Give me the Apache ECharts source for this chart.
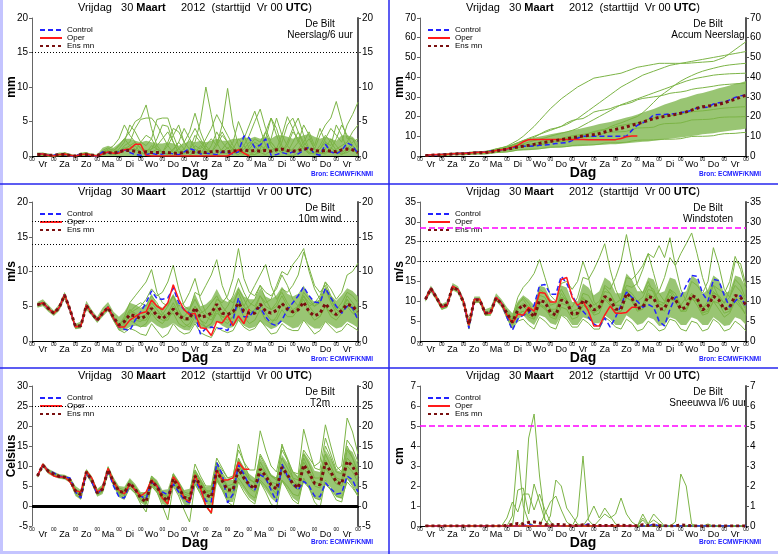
<!DOCTYPE html>
<html>
<head>
<meta charset="utf-8">
<title>EPS De Bilt</title>
<script src="https://cdn.jsdelivr.net/npm/echarts/dist/echarts.min.js"></script>
<style>
html, body { margin: 0; padding: 0; background: #fff; }
#chart { width: 778px; height: 554px; }
</style>
</head>
<body>
<div id="chart"></div>
<script>
// dagen (labels tussen de 00-streepjes)
var DAYS = ['Vr','Za','Zo','Ma','Di','Wo','Do','Vr','Za','Zo','Ma','Di','Wo','Do','Vr'];
var CATS = [];
for (var h = 0; h <= 360; h += 6) CATS.push(String(h));

// ---------- Neerslag/6 uur ----------
var precCtrl = [null, 0.3,0.3,0.1,0.1, 0.3,0.2,0,0, 0.3,0.2,0,0, 0.6,0.5,0.3,0.6, 0.9,0.5,0.2,0.1, 0.2,0.4,0.2,0.3, 0.5,0.3,0.2,0.6, 1.1,0.8,0.3,0.4, 0.3,0.2,0.6,0.5, 0.3,0.6,2.9,2.6, 1.2,1.6,2.5,0.1, 0.2,0.5,0.3,0.6, 0.3,0.8,1.3,0.3, 0.1,1.7,0.6,0.3, 0.8,1.9,1.5,0.3];
var precOper = [null, 0.3,0.3,0.1,0, 0.2,0.3,0.1,0, 0.2,0.3,0.1,0, 0.3,0.6,0.4,0.4, 0.9,1.0,1.7,1.7, 0.1,0,0,0, 0,0,0,0, 0,0,0,0, 0,0,0,0, 0.5,0.9,0.4,0];
var precMean = [null, 0.2,0.2,0.1,0.1, 0.2,0.2,0.1,0, 0.2,0.2,0.1,0.1, 0.4,0.5,0.4,0.6, 0.8,0.8,0.7,0.5, 0.6,0.5,0.5,0.5, 0.5,0.4,0.4,0.5, 0.6,0.5,0.6,0.5, 0.6,0.7,0.6,0.6, 0.7,0.8,0.9,0.7, 0.8,0.7,0.8,0.7, 0.9,1.0,0.8,0.7, 0.8,1.0,1.1,0.8, 0.7,0.8,0.7,0.6, 0.9,1.0,0.9,0.5];
var precHi = [null, 0.5,0.5,0.3,0.2, 0.5,0.5,0.2,0.1, 0.5,0.5,0.2,0.2, 1.2,1.5,1.2,1.8, 2.5,2.5,2.2,2.0, 2.2,2.0,1.8,1.8, 2.0,1.8,1.5,1.8, 2.2,2.0,2.2,2.0, 2.2,2.5,2.2,2.2, 2.5,2.5,2.8,2.5, 2.8,2.5,2.8,2.5, 3.0,3.0,2.8,2.5, 2.8,3.0,3.2,2.8, 2.5,2.8,2.5,2.2, 3.0,3.0,2.8,2.0];
var precM1 = [null, 0.4,0.2,0,0, 0.2,0.4,0,0, 0.3,0.5,0,0, 0.8,1.2,0.5,1.5, 2.5,3.5,5.0,5.5, 7.4,4.0,1.5,0.5, 0.3,1.0,2.0,1.0, 0.2,0.5,1.5,0.8, 0.2,0,0.5,1.2, 0.5,0.2,1.0,2.0, 1.5,0.5,0.2,0.8, 1.2,0.5,0.2,0, 0.5,1.5,2.5,1.0, 0.3,0.5,1.2,0.6, 0.2,0.8,1.5,0.5];
var precM2 = [null, 0.2,0.3,0.1,0, 0.1,0.2,0.1,0, 0.2,0.3,0,0, 0.5,0.8,0.3,0.6, 1.2,1.0,0.8,2.0, 3.0,2.5,1.0,0.5, 1.5,3.0,4.5,2.0, 1.0,2.0,5.0,10.0, 6.0,2.0,0.5,0.3, 1.0,2.5,1.5,0.5, 0.2,1.0,3.5,5.5, 4.0,1.5,0.5,1.0, 2.0,1.0,0.3,0.5, 1.5,3.0,2.0,0.8, 0.3,0.5,1.0,0.4];
var precM3 = [null, 0.3,0.2,0,0, 0.3,0.2,0,0, 0.2,0.4,0.1,0, 0.3,0.6,0.4,1.0, 2.0,4.5,3.5,2.0, 1.5,2.5,5.3,5.5, 5.5,3.0,1.0,0.5, 0.5,1.5,1.0,2.5, 4.0,6.0,4.5,9.8, 4.5,1.5,0.5,0.2, 0.2,0.5,1.5,2.0, 1.0,0.5,2.0,4.0, 5.5,3.0,1.0,0.5, 0.2,1.0,2.5,1.5, 0.5,1.0,0.8,0.3];
var precM4 = [null, 0.2,0.4,0.2,0, 0.2,0.3,0.1,0, 0.3,0.4,0.1,0, 0.6,0.5,0.3,0.8, 1.0,1.5,2.0,1.2, 0.8,1.0,1.5,2.5, 3.5,2.0,0.5,0.3, 1.0,3.0,2.0,1.0, 0.5,1.5,3.0,2.0, 1.0,0.5,1.5,3.0, 5.0,6.8,4.0,2.0, 1.0,0.5,1.5,3.5, 2.5,1.0,0.5,1.0, 3.0,4.5,5.5,7.9, 5.0,2.5,2.5,1.0];
var precM5 = [null, 0.1,0.2,0.3,0, 0,0.5,0.2,0, 0.1,0.2,0.3,0, 0.4,0.8,1.0,0.5, 1.5,2.0,4.0,5.3, 5.5,5.5,4.5,3.0, 1.5,0.5,1.0,2.0, 3.5,6.2,3.5,1.5, 0.5,0.2,1.0,2.0, 1.0,0.5,0.2,1.5, 2.5,2.0,3.5,1.5, 0.5,2.0,4.5,5.5, 3.5,1.5,0.5,0.3, 1.0,2.0,1.5,4.5, 3.0,1.0,2.0,2.5];
var precM6 = [null, 0.2,0.1,0,0, 0.3,0.2,0,0, 0.2,0.5,0.2,0, 0.2,0.4,0.8,1.5, 2.5,1.5,1.0,0.5, 0.3,1.0,2.5,4.5, 4.3,2.0,0.5,1.0, 2.5,4.0,2.5,1.0, 0.5,2.0,3.5,2.0, 0.5,1.0,2.5,4.5, 6.5,4.0,1.5,0.5, 1.0,3.0,5.7,4.0, 2.0,4.5,3.0,1.0, 0.5,0.3,1.0,2.5, 4.5,3.0,1.5,0.5];
var precM7 = [null, 0.1,0.3,0.1,0, 0.2,0.1,0,0, 0.4,0.2,0,0, 0.3,0.5,0.2,0.4, 0.8,1.2,1.5,0.5, 0.2,0.5,1.0,0.5, 0.2,0.8,2.0,4.0, 2.5,1.0,0.5,0.3, 1.5,3.5,2.0,1.0, 2.0,5.0,3.0,1.0, 0.5,1.5,2.5,5.5, 3.0,1.0,0.5,2.0, 3.5,2.0,1.0,0.5, 1.0,2.5,4.0,3.0, 2.0,4.5,6.0,7.8];
var precM8 = [null, 0.3,0.2,0,0, 0.1,0.3,0.2,0, 0.2,0.3,0,0, 0.6,1.0,1.5,2.5, 4.5,3.0,2.0,1.0, 0.5,1.5,1.0,0.5, 2.0,4.0,3.5,2.0, 1.0,0.5,0.3,1.5, 2.5,1.5,4.5,3.0, 1.5,0.5,0.5,1.0, 2.0,1.5,1.0,2.5, 5.5,3.0,1.5,0.5, 1.0,2.0,3.5,1.5, 4.0,2.0,0.5,1.0, 1.5,2.0,3.5,4.5];

// ---------- Accum neerslag ----------
var accCtrl = [null, 0.2,0.4,0.6,0.8, 1.0,1.2,1.3,1.4, 1.6,1.8,1.9,2.0, 2.5,2.9,3.1,3.6, 4.3,4.8,5.0,5.0, 5.1,5.4,5.6,5.9, 6.3,6.6,6.8,7.8, 9.0,10.0,10.0,10.0, 10.0,10.0,10.0,10.0, 10.0,10.1,13.0,15.6, 16.8,18.4,20.9,21.0, 21.1,21.3,21.5,22.1, 22.4,23.2,24.5,24.6, 24.7,26.4,27.0,27.3, 28.5,29.7,30.5,31.0];
var accOper = [null, 0.3,0.6,0.7,0.7, 0.9,1.2,1.3,1.3, 1.5,1.8,1.9,1.9, 2.2,2.8,3.2,3.6, 4.5,5.5,7.2,8.3, 8.4,8.4,8.4,8.4, 8.4,8.4,8.4,8.4, 8.4,8.4,8.3,8.3, 8.3,8.3,8.3,8.3, 8.9,9.8,10.2,10.2];
var accMean = [null, 0.2,0.4,0.5,0.6, 0.8,1.0,1.1,1.1, 1.3,1.5,1.6,1.7, 2.1,2.6,3.0,3.4, 4.0,4.6,5.0,5.4, 5.9,6.4,6.9,7.4, 7.9,8.3,8.7,9.2, 9.7,10.1,10.5,10.9, 11.4,12.2,12.9,13.5, 14.1,14.8,15.6,16.3, 17.2,18.1,19.0,19.6, 20.1,20.6,21.1,21.7, 22.4,23.3,24.2,25.0, 25.3,25.7,26.2,27.0, 27.9,28.8,29.9,30.8];
var accLo = [null, 0.1,0.2,0.3,0.4, 0.5,0.6,0.6,0.7, 0.9,1.0,1.0,1.1, 1.4,1.6,1.7,2.0, 2.3,2.6,2.8,2.9, 3.2,3.5,3.7,4.0, 4.2,4.3,4.6,4.8, 5.0,5.1,5.3,5.4, 5.6,5.7,5.9,6.0, 6.2,6.5,6.7,7.0, 7.2,7.4,7.7,8.0, 8.4,8.7,9.1,9.4, 9.8,10.2,10.5,11.0, 11.3,11.6,12.1,12.4, 12.8,13.2,13.5,14.0];
var accHi = [null, 0.4,0.6,0.8,1.2, 1.4,1.6,1.7,1.8, 2.0,2.3,2.4,2.6, 3.2,3.9,4.4,5.0, 6.1,7.0,7.8,8.4, 9.2,9.9,10.4,11.0, 11.6,12.0,12.4,13.1, 13.6,14.2,14.9,15.5, 16.2,16.8,17.3,18.0, 18.8,19.5,20.1,21.0, 22.1,23.0,23.9,25.0, 26.1,27.0,27.9,29.0, 29.7,30.5,31.4,32.0, 32.7,33.5,34.4,35.0, 35.7,36.6,37.2,38.0];
var accM1 = [null, 0.3,0.5,0.7,0.9, 1.1,1.3,1.4,1.5, 1.8,2.0,2.1,2.2, 2.8,3.5,4.2,5.0, 6.5,8.0,10,12.5, 15,18,21,24, 26.5,29,31,33, 35,36.5,38,39.5, 40,40.5,41,41.5, 42,43,44,45, 45.5,46,46.5,47, 47,47,47,47, 47,47.2,47.4,47.6, 47.8,48,49,50, 52,54,56,58];
var accM2 = [null, 0.2,0.4,0.6,0.8, 1.0,1.2,1.3,1.4, 1.6,1.8,1.9,2.0, 2.6,3.2,3.8,4.5, 5.5,6.5,7.8,9.0, 10,11,12,13, 14,15,16,17.5, 19,21,23,25, 27,29,31,33, 35,36.5,38,39.5, 41,42,43,44, 45,46,46.5,47, 47.5,48,48.5,49, 49.5,50,50.5,51, 51.5,52,52.5,53];
var accM3 = [null, 0.2,0.3,0.5,0.7, 0.9,1.0,1.1,1.2, 1.4,1.6,1.7,1.8, 2.2,2.8,3.4,4.0, 4.8,5.5,6.2,7.0, 7.8,8.5,9.2,10, 10.8,11.5,12.2,13, 14,15.5,17,18.5, 20,21.5,23,24.5, 26,27,28,29, 30,31,32,33, 34,35,36,37, 38,38.8,39.5,40, 40.5,41,41.3,41.5, 41.7,41.8,41.9,42];
var accM4 = [null, 0.1,0.2,0.3,0.3, 0.4,0.6,0.6,0.6, 0.8,0.9,1.0,1.0, 1.3,1.7,1.9,2.0, 2.5,3.1,3.3,3.4, 3.5,3.6,4.2,4.5, 4.6,4.6,4.8,5.3, 5.5,5.6,5.6,5.7, 6.0,6.6,6.7,6.7, 6.8,7.0,7.6,8.0, 8.1,8.1,8.2,8.4, 8.5,8.5,8.6,8.8, 9.4,9.9,10.0,10.0, 10.1,10.3,10.9,11.3, 11.4,11.5,11.8,12.0];
var accM5 = [null, 0.2,0.3,0.4,0.5, 0.7,0.9,1.0,1.0, 1.2,1.5,1.6,1.6, 2.0,2.6,2.9,3.1, 3.5,4.2,4.8,5.0, 5.1,5.3,6.2,7.0, 7.2,7.3,7.5,8.6, 9.4,9.6,9.7,9.8, 10.5,11.8,12.1,12.2, 12.3,12.5,13.4,14.2, 14.3,14.4,14.6,15.8, 16.4,16.5,16.6,16.8, 17.5,18.3,18.4,18.5, 18.6,18.9,19.5,19.7, 19.8,19.8,19.9,20.0];
var accM6 = [null, 0.3,0.5,0.6,0.7, 0.9,1.2,1.3,1.3, 1.6,1.9,2.0,2.0, 2.6,3.4,4.0,4.6, 5.5,6.8,7.9,8.6, 9.4,11.0,12.5,13.6, 14.2,15.0,16.8,18.0, 18.6,19.0,20.5,22.3, 23.0,23.4,24.0,25.1, 25.8,26.4,27.2,28.5, 29.2,29.6,30.0,30.4, 31.0,31.8,32.2,32.5, 33.0,33.8,34.3,34.6, 35.0,35.4,35.9,36.2, 36.4,36.6,36.8,37.0];
var accM7 = [null, 0.2,0.4,0.5,0.6, 0.8,1.0,1.1,1.2, 1.4,1.6,1.8,1.8, 2.3,2.9,3.3,3.7, 4.3,5.0,5.5,5.8, 6.3,7.2,7.8,8.1, 8.4,8.9,9.6,10.2, 10.6,11.0,11.5,12.4, 13.1,13.5,14.0,14.9, 15.5,16.0,16.4,16.8, 17.5,18.6,19.3,19.8, 20.1,20.4,20.8,21.3, 21.9,22.4,22.7,22.9, 23.2,23.6,24.0,24.3, 24.5,24.7,24.9,25.0];
var accM8 = [null, 0.2,0.3,0.4,0.5, 0.6,0.8,0.9,0.9, 1.1,1.3,1.4,1.4, 1.8,2.3,2.6,3.0, 3.6,4.3,4.8,5.1, 5.5,6.2,6.8,7.2, 7.6,8.3,8.9,9.4, 9.8,10.5,11.4,12.1, 12.6,13.5,14.8,15.9, 16.8,17.9,19.0,20.0, 22.0,24.5,27.2,30.0, 32.0,34.0,36.2,38.0, 39.5,40.8,42.0,43.0, 43.8,44.5,45.2,45.8, 46.2,46.5,46.8,47.0];

// ---------- 10m wind ----------
var windCtrl = [null, 5.2,5.5,4.7,4.0, 4.8,6.7,4.5,2.0, 2.2,5.2,4.0,3.0, 4.0,4.9,3.3,2.0, 1.7,1.5,3.0,4.2, 5.5,7.2,6.1,6.0, 6.2,7.6,5.5,4.5, 4.0,3.8,1.0,1.8, 2.0,1.8,1.8,1.5, 3.0,6.2,3.5,3.5, 4.5,4.8,3.5,2.5, 2.2,3.0,4.5,5.5, 6.5,7.8,6.5,5.6, 5.5,7.6,6.2,5.0, 4.0,5.0,4.8,3.0];
var windOper = [null, 5.2,5.5,4.7,4.0, 4.8,6.7,4.5,2.0, 2.2,5.2,4.0,3.0, 4.0,4.9,3.3,2.0, 2.0,3.0,3.5,4.0, 4.2,5.9,5.0,4.5, 5.5,8.1,6.0,4.5, 3.8,4.0,1.9,1.8, 0.8,2.8,2.6,3.7, 2.2,3.6,2.5,4.6];
var windMean = [null, 5.2,5.5,4.7,4.0, 4.8,6.6,4.5,2.1, 2.2,5.1,4.0,3.0, 4.0,4.8,3.4,2.3, 2.8,3.8,3.6,3.2, 3.6,4.7,3.6,3.2, 3.8,4.6,3.6,3.2, 3.2,4.8,3.4,3.6, 4.0,5.3,4.0,3.8, 4.2,5.5,4.3,4.0, 4.0,5.3,4.3,4.0, 4.4,5.4,4.6,4.2, 4.5,5.6,4.2,3.6, 4.0,5.4,4.4,3.8, 4.4,5.3,5.0,4.2];
var windLo = [null, 4.8,5.0,4.2,3.6, 4.3,6.0,4.0,1.7, 1.8,4.5,3.6,2.6, 3.5,4.3,2.8,1.5, 1.5,2.0,2.2,2.0, 2.0,2.8,2.2,1.8, 2.0,2.6,2.0,1.6, 1.5,2.6,2.0,1.8, 1.8,2.8,2.2,1.8, 2.0,3.0,2.2,1.8, 2.0,2.8,2.2,1.7, 2.0,2.8,2.3,1.8, 2.0,3.0,2.3,1.8, 1.8,2.8,2.3,1.8, 2.0,2.8,2.4,1.9];
var windHi = [null, 5.6,6.0,5.2,4.4, 5.3,7.1,5.0,2.5, 2.8,5.8,4.5,3.5, 4.8,5.6,4.2,3.5, 4.2,5.5,5.2,4.8, 5.2,6.8,5.2,4.8, 5.5,6.8,5.3,4.8, 5.0,6.8,5.0,5.3, 6.0,7.5,6.0,5.6, 6.3,7.8,6.4,6.0, 6.0,7.6,6.4,6.0, 6.6,7.8,6.8,6.4, 6.8,8.0,6.4,5.6, 6.0,7.8,6.6,5.8, 6.6,7.6,7.2,6.4];
var windM1 = [null, 5.3,5.6,4.6,3.9, 4.9,6.8,4.4,2.1, 2.3,5.3,4.1,3.1, 4.1,5.0,3.4,2.2, 3.5,5.5,6.5,7.5, 8.5,10.3,7.0,5.5, 5.0,6.5,4.5,3.0, 3.5,5.0,3.0,2.5, 4.0,6.0,5.5,6.5, 9.0,13.3,9.0,7.0, 6.5,8.0,6.0,4.5, 5.0,6.5,5.0,4.0, 4.5,6.0,4.0,3.0, 3.5,5.0,3.5,3.0, 4.0,5.5,4.5,3.5];
var windM2 = [null, 5.1,5.4,4.8,4.1, 4.7,6.5,4.6,1.9, 2.1,5.0,3.9,2.9, 3.9,4.8,3.2,1.9, 2.5,4.0,4.5,5.0, 6.0,7.5,6.5,7.0, 8.5,10.9,7.5,5.0, 4.5,6.0,4.5,3.5, 3.0,4.5,3.0,2.5, 3.5,6.0,5.0,6.5, 8.0,9.5,11.0,8.0, 6.0,7.0,5.5,4.5, 5.0,7.0,6.0,5.0, 5.5,7.5,6.0,4.5, 5.5,7.0,6.5,5.5];
var windM3 = [null, 5.2,5.6,4.7,4.0, 4.8,6.7,4.5,2.0, 2.2,5.2,4.1,3.0, 4.0,4.9,3.3,2.1, 2.0,3.0,2.5,2.0, 2.5,4.0,3.0,2.5, 3.5,5.0,4.0,3.5, 4.5,7.0,6.5,8.0, 9.5,11.7,8.0,6.0, 5.5,7.0,5.0,4.0, 4.5,6.5,5.5,6.0, 8.0,10.0,9.5,11.0, 12.0,13.3,10.0,7.5, 6.0,7.5,5.5,4.0, 4.5,6.0,5.0,4.0];
var windM4 = [null, 5.0,5.3,4.5,3.8, 4.6,6.4,4.3,1.8, 2.0,4.9,3.8,2.8, 3.8,4.6,3.0,1.6, 1.2,1.8,1.5,1.0, 0.8,2.5,1.5,0.5, 1.0,2.5,1.5,1.0, 1.2,2.5,1.2,0.8, 0.5,2.0,1.5,1.2, 1.5,3.0,2.0,1.5, 1.8,3.0,2.0,1.0, 1.2,2.5,1.8,1.5, 1.5,3.0,2.0,1.0, 1.5,2.8,2.0,1.2, 1.5,2.5,2.0,1.5];
var windM5 = [null, 5.3,5.5,4.8,4.1, 4.9,6.7,4.6,2.2, 2.3,5.3,4.0,3.1, 4.1,5.0,3.5,2.4, 3.0,4.5,4.0,3.5, 3.8,5.5,4.5,3.5, 4.0,5.5,4.0,3.0, 3.0,5.0,4.0,4.5, 5.5,6.5,5.0,4.0, 4.0,5.5,4.5,5.0, 6.0,8.0,7.0,6.5, 7.5,9.5,8.0,6.0, 5.0,6.5,5.5,5.0, 6.0,8.5,7.5,6.0, 7.0,9.5,10.0,11.2];
var windM6 = [null, 5.2,5.4,4.6,3.9, 4.8,6.6,4.4,2.0, 2.1,5.1,4.0,3.0, 4.0,4.8,3.3,2.2, 2.8,3.5,3.0,2.8, 3.5,5.0,4.0,3.8, 5.0,6.5,5.0,5.5, 7.0,9.0,6.0,4.0, 3.5,5.0,3.5,3.0, 3.5,5.0,3.5,2.5, 3.0,4.5,3.0,2.5, 3.5,5.5,4.5,4.0, 5.0,6.5,5.0,5.5, 6.5,8.5,6.5,5.0, 4.5,6.0,4.5,3.0];
var windM7 = [null, 5.2,5.5,4.7,4.0, 4.8,6.7,4.5,2.0, 2.2,5.2,4.0,3.0, 4.0,4.9,3.3,2.0, 2.2,4.2,5.0,5.5, 5.0,6.5,5.5,4.0, 3.5,4.0,2.5,2.0, 2.5,4.0,3.0,2.0, 2.5,4.0,3.5,3.5, 5.0,7.5,6.0,4.5, 4.0,5.5,4.0,3.0, 3.0,4.5,3.5,3.5, 4.5,6.5,5.0,4.0, 3.5,5.0,4.0,3.5, 4.5,6.5,5.5,4.5];
var windM8 = [null, 5.1,5.5,4.7,4.0, 4.7,6.6,4.5,2.1, 2.2,5.2,4.0,3.0, 3.9,4.9,3.4,2.3, 3.2,4.5,3.8,3.0, 3.0,4.5,3.5,3.0, 3.0,4.5,3.5,2.5, 2.0,3.5,2.5,2.0, 2.5,4.5,4.0,5.0, 6.5,9.0,7.0,5.5, 5.0,6.5,5.0,4.5, 5.5,7.5,7.0,8.0, 9.5,12.8,10.5,8.0, 7.0,8.0,6.0,4.5, 4.0,5.0,4.0,3.5];

// ---------- Windstoten ----------
var gustCtrl = [null, 10.5,13.3,11.0,8.5, 9.0,13.8,13.0,10.0, 3.2,10.5,10.5,7.0, 7.2,11.0,9.5,6.0, 2.7,5.5,6.5,7.0, 9.0,14.0,14.2,11.8, 11.8,16.3,14.5,11.5, 9.0,7.5,6.0,4.3, 3.5,5.8,3.5,6.0, 9.0,12.3,11.0,10.0, 8.5,9.2,8.5,5.0, 3.8,8.0,11.0,11.2, 14.0,16.5,16.3,12.0, 10.0,15.5,15.2,11.5, 8.5,10.0,11.5,8.5];
var gustOper = [null, 10.5,13.3,11.0,8.5, 9.0,13.8,13.0,10.0, 4.0,10.5,10.5,7.0, 7.0,11.0,9.5,6.5, 4.5,6.8,6.5,8.5, 7.5,12.2,12.0,9.8, 9.8,15.5,16.0,11.0, 9.0,10.0,7.5,3.8, 3.8,6.5,8.8,7.0, 7.0,7.2,8.5,8.5];
var gustMean = [null, 10.5,13.2,11.0,8.6, 9.2,13.6,12.8,9.8, 4.2,10.3,10.3,7.0, 7.2,10.8,9.4,7.0, 4.7,7.8,9.2,7.8, 6.0,10.2,9.8,7.2, 6.5,10.3,9.8,6.8, 7.0,10.3,9.5,7.8, 8.5,11.2,10.5,8.0, 8.0,12.0,10.8,8.2, 8.5,11.2,10.8,8.0, 8.2,11.0,10.5,8.0, 8.5,11.5,10.8,7.8, 8.8,11.3,10.3,8.0, 8.5,11.5,11.0,9.0];
var gustLo = [null, 9.8,12.3,10.2,7.8, 8.3,12.8,12.0,9.0, 3.0,9.5,9.6,6.3, 6.3,10.0,8.5,5.5, 3.0,5.5,6.5,5.0, 4.0,6.5,6.0,4.5, 4.0,6.5,6.0,4.0, 4.0,6.0,5.5,4.5, 4.5,6.5,5.5,4.0, 4.0,6.5,5.5,4.0, 4.5,6.0,5.5,3.8, 4.0,6.0,5.5,4.0, 4.0,6.0,5.5,4.0, 4.0,6.0,5.0,3.8, 4.0,6.0,5.5,4.0];
var gustHi = [null, 11.2,14.0,11.8,9.3, 10.0,14.6,13.8,10.8, 5.5,11.2,11.2,8.0, 8.5,12.0,10.5,8.5, 7.0,10.0,11.5,10.5, 9.0,14.0,13.5,10.5, 9.5,14.0,13.5,9.8, 10.0,14.5,13.5,11.5, 12.5,16.0,15.0,12.0, 12.0,17.0,15.5,12.5, 12.5,16.0,15.5,12.0, 12.5,16.0,15.5,12.0, 12.5,16.5,15.5,11.8, 13.0,16.5,15.5,12.0, 12.5,16.5,16.0,13.5];
var gustM1 = [null, 10.6,13.4,11.1,8.4, 9.1,13.9,13.1,10.1, 3.8,10.6,10.4,7.1, 7.3,11.1,9.6,7.5, 6.0,11.0,13.5,15.0, 17.0,20.5,16.0,11.5, 10.0,13.0,10.5,7.5, 8.0,11.0,9.0,7.0, 9.0,14.0,13.0,16.0, 20.0,26.8,20.0,14.0, 12.0,15.0,12.0,9.0, 9.5,12.5,10.0,7.5, 8.0,11.0,9.0,6.5, 7.0,10.0,8.0,6.0, 7.0,10.0,8.5,6.5];
var gustM2 = [null, 10.4,13.2,10.9,8.6, 8.9,13.7,12.9,9.9, 4.2,10.4,10.6,6.9, 7.1,10.9,9.4,6.8, 4.5,7.0,7.5,6.0, 5.5,9.0,8.0,6.5, 7.5,11.0,9.5,8.5, 11.0,16.0,15.5,18.0, 21.0,24.5,18.0,13.0, 10.0,13.0,10.5,8.5, 9.0,12.0,11.0,12.5, 16.0,21.0,19.0,22.0, 24.5,27.2,22.0,16.0, 12.0,14.0,11.0,8.0, 8.0,11.0,9.0,6.5];
var gustM3 = [null, 10.5,13.3,11.0,8.5, 9.0,13.8,13.0,10.0, 4.5,10.5,10.5,7.0, 7.2,11.0,9.5,6.5, 4.0,6.5,7.5,6.5, 6.0,10.5,10.0,8.0, 8.0,12.0,10.0,7.0, 6.5,9.0,8.0,7.0, 8.0,11.5,10.5,9.5, 10.5,14.0,13.5,14.5, 18.0,22.0,21.0,24.0, 21.0,26.0,19.0,13.0, 10.0,12.0,10.0,8.0, 10.0,14.0,13.0,12.0, 15.0,21.3,18.0,13.0];
var gustM4 = [null, 10.2,12.8,10.6,8.0, 8.6,13.2,12.4,9.5, 3.0,9.8,9.8,6.5, 6.8,10.4,9.0,5.8, 3.2,5.0,5.5,4.0, 3.0,6.0,5.0,3.5, 3.0,6.5,5.5,3.5, 3.5,5.5,4.5,3.0, 3.0,6.0,5.0,3.5, 3.0,5.5,4.5,2.5, 3.0,5.0,4.0,2.5, 3.0,5.5,5.0,3.0, 2.5,5.0,4.5,2.5, 3.0,5.5,4.5,2.5, 3.0,5.0,4.0,2.5];
var gustM5 = [null, 10.6,13.2,11.0,8.7, 9.1,13.6,12.9,10.2, 4.5,10.4,10.5,7.2, 7.3,10.8,9.5,7.2, 5.0,9.0,11.0,9.5, 7.0,11.5,11.0,8.0, 7.0,11.0,10.5,6.5, 6.5,10.5,10.0,8.0, 9.0,12.5,12.0,9.0, 9.0,13.0,12.0,10.0, 11.0,14.0,13.0,9.5, 8.5,11.5,10.5,9.0, 11.0,15.0,14.0,12.0, 15.0,23.5,19.0,13.0, 11.0,14.0,12.5,10.0];
var gustM6 = [null, 10.5,13.3,11.0,8.5, 9.0,13.8,13.0,10.0, 4.0,10.5,10.5,7.0, 7.2,11.0,9.5,7.0, 5.5,9.5,10.5,8.5, 7.5,13.0,12.0,9.0, 9.5,14.5,15.0,13.0, 15.0,20.0,16.0,10.0, 8.0,11.0,9.5,7.0, 7.5,11.0,10.0,8.0, 9.0,13.0,12.5,10.0, 9.5,13.0,12.0,9.0, 8.0,11.5,10.5,7.0, 8.0,12.0,11.5,9.5, 11.0,15.5,14.0,10.5];
var gustM7 = [null, 10.4,13.3,11.1,8.5, 9.0,13.8,13.0,10.0, 4.0,10.5,10.5,7.0, 7.2,11.0,9.5,6.5, 4.5,8.0,9.5,8.0, 6.5,9.5,8.5,6.0, 5.5,8.5,8.0,5.5, 6.0,9.0,8.5,6.5, 7.0,10.5,9.0,7.0, 7.5,11.0,10.0,7.5, 8.0,11.5,11.0,8.5, 7.5,10.5,10.0,7.5, 7.5,10.5,10.0,7.0, 7.5,10.0,9.5,7.0, 7.5,10.5,10.0,8.0];
var gustM8 = [null, 10.5,13.3,11.0,8.5, 9.0,13.8,13.0,10.0, 4.0,10.5,10.5,7.0, 7.2,11.0,9.5,7.0, 5.0,8.5,9.0,7.0, 5.5,9.0,8.5,6.5, 6.0,9.5,9.0,7.5, 8.0,12.0,11.5,9.0, 10.0,13.5,12.0,9.5, 10.5,16.0,15.5,17.0, 19.0,22.0,17.0,12.0, 10.0,13.0,11.0,8.5, 8.0,11.0,10.5,8.5, 9.0,12.5,11.0,9.5, 13.0,20.0,19.5,14.0];

// ---------- T2m ----------
var tempCtrl = [null, 7.5,10.3,8.8,8.3, 7.5,7.2,7.0,3.5, 2.0,8.5,6.0,3.0, 4.5,8.9,5.0,2.3, 2.0,5.5,4.0,2.5, 1.8,6.0,5.0,3.5, 2.8,5.5,3.5,1.5, 0.8,6.5,4.0,1.2, 1.0,10.8,8.0,0.8, 3.0,10.3,8.0,5.0, 4.0,7.8,7.0,4.0, 1.0,10.5,7.5,5.5, 4.0,6.2,5.0,2.5, 2.3,5.8,4.3,3.0, 3.2,7.5,6.5,3.5];
var tempOper = [null, 7.5,10.5,8.5,7.5, 7.2,7.3,6.0,3.8, 3.5,8.7,7.0,3.5, 4.5,9.4,6.0,4.0, 3.0,5.5,4.0,2.5, 3.5,6.5,5.0,2.0, 0.5,7.3,5.5,2.0, 1.0,7.8,4.5,0, -1.7,9.0,6.5,6.5, 7.0,11.0,9.2,9.2];
var tempMean = [null, 7.5,10.2,8.7,8.0, 7.4,7.2,6.5,3.8, 2.8,8.5,6.5,3.3, 4.2,9.1,6.0,3.7, 3.3,5.7,4.2,2.0, 1.0,6.3,4.8,2.3, 1.3,6.8,4.5,2.2, 1.6,7.5,5.0,2.8, 2.2,8.8,6.3,4.0, 4.0,9.3,7.0,5.3, 4.3,9.2,7.5,5.3, 4.2,9.7,7.8,5.6, 4.5,10.3,8.3,5.7, 5.3,10.8,8.5,6.0, 5.5,11.2,10.0,7.0];
var tempLo = [null, 7.0,9.7,8.0,7.3, 6.8,6.6,5.8,2.5, 1.5,7.6,5.5,2.3, 3.0,8.0,4.8,2.2, 1.5,4.3,3.0,0.8, -0.5,4.8,3.2,0.5, -1.0,5.0,2.8,0.3, -0.8,5.3,3.0,0.5, -0.5,6.0,3.8,1.0, 1.0,6.0,4.0,2.0, 1.0,5.8,4.0,2.0, 0.8,6.0,4.2,2.0, 1.0,6.3,4.5,2.0, 1.5,6.5,4.5,2.2, 1.8,6.8,5.2,3.0];
var tempHi = [null, 8.0,10.8,9.3,8.6, 8.0,7.8,7.2,5.0, 4.0,9.3,7.5,4.3, 5.4,10.0,7.2,5.0, 4.8,7.0,5.5,3.5, 3.0,7.6,6.5,4.0, 3.2,8.4,6.3,4.0, 3.5,9.2,7.0,4.8, 4.5,11.0,8.5,6.5, 6.5,12.0,9.8,8.0, 7.0,12.0,10.0,8.0, 7.0,12.8,10.8,8.5, 7.5,13.5,11.5,8.8, 8.5,14.0,11.8,9.0, 8.5,14.5,13.5,10.5];
var tempM1 = [null, 7.6,10.4,8.8,8.2, 7.6,7.4,6.8,4.2, 3.2,8.8,6.8,3.8, 4.6,9.5,6.3,4.0, 3.5,6.0,4.5,2.5, 1.5,7.0,5.2,2.5, 1.5,7.5,5.0,2.5, 2.0,8.5,6.0,3.5, 3.0,10.5,7.5,5.0, 5.5,12.0,9.0,6.5, 6.0,13.0,10.5,7.5, 6.5,14.0,11.5,8.5, 8.0,19.2,14.0,9.5, 9.0,17.0,13.0,9.0, 10.0,22.0,18.5,13.0];
var tempM2 = [null, 7.4,10.1,8.6,7.9, 7.3,7.0,6.4,3.6, 2.6,8.3,6.3,3.1, 4.0,8.8,5.8,3.5, 3.0,5.5,4.0,1.8, 0.8,6.0,4.5,2.0, 1.0,6.5,4.3,2.0, 1.5,7.0,5.0,3.5, 4.0,11.0,9.0,7.0, 7.5,14.0,11.0,9.0, 9.0,18.8,14.0,10.0, 8.5,15.0,12.0,8.5, 7.0,14.0,12.0,10.0, 11.0,20.3,15.0,10.0, 8.5,15.0,12.0,8.0];
var tempM3 = [null, 7.5,10.2,8.6,7.8, 7.2,7.0,6.0,3.0, 1.8,8.0,6.0,2.8, 3.5,8.5,5.5,2.8, 2.0,4.5,3.2,0.5, -1.5,5.0,3.5,0, -3.5,5.0,2.5,-1.0, -4.0,5.5,3.0,0, -2.0,6.5,4.0,1.0, 0,6.0,3.5,1.5, 0.5,6.0,3.5,0.5, -0.5,6.5,4.0,1.5, 0.5,7.0,4.5,1.0, -0.5,6.5,4.0,1.5, 1.0,7.0,5.0,2.5];
var tempM4 = [null, 7.5,10.3,8.7,8.0, 7.4,7.2,6.6,3.9, 2.9,8.6,6.6,3.4, 4.3,9.2,6.1,3.8, 3.4,5.8,4.3,2.1, 1.2,6.5,5.0,2.5, 1.5,7.2,4.8,2.5, 1.8,8.0,5.5,3.0, 2.5,9.5,7.0,4.5, 4.5,10.5,7.5,5.5, 4.5,10.0,8.0,5.5, 4.0,10.5,8.5,6.0, 5.0,11.0,8.5,6.0, 5.5,11.5,9.0,6.5, 6.0,12.0,10.5,7.5];
var tempM5 = [null, 7.5,10.2,8.8,8.1, 7.5,7.3,6.6,4.0, 3.0,8.7,6.7,3.5, 4.3,9.3,6.2,4.0, 3.8,6.2,4.5,2.5, 2.0,7.0,5.5,3.0, 2.5,8.0,6.0,3.5, 3.0,10.5,7.5,5.0, 5.0,12.0,9.5,7.0, 7.0,15.5,11.0,7.0, 5.5,11.0,8.5,6.0, 5.5,15.5,11.5,7.0, 5.0,12.0,9.0,6.0, 5.5,13.0,10.0,7.0, 6.5,14.0,12.0,8.5];
var tempM6 = [null, 7.4,10.0,8.5,7.8, 7.2,7.0,6.2,3.4, 2.4,8.2,6.2,2.9, 3.8,8.7,5.7,3.2, 2.6,5.2,3.8,1.5, 0.5,5.5,4.0,1.5, 0.5,6.0,3.8,1.5, 1.0,6.5,4.0,1.5, 1.0,7.0,4.5,2.0, 2.5,7.0,5.0,3.0, 2.0,6.5,5.0,3.0, 2.0,6.5,5.0,3.0, 2.5,6.0,4.5,2.0, 1.5,5.5,4.0,2.5, 2.0,6.0,4.5,2.5];
var tempM7 = [null, 7.6,10.4,8.9,8.3, 7.6,7.4,6.8,4.3, 3.3,9.0,7.0,4.0, 4.8,9.8,6.5,4.5, 4.0,6.5,4.8,3.0, 2.5,7.5,5.8,3.0, 2.0,8.0,5.5,3.0, 2.5,9.0,6.5,4.0, 3.5,10.0,7.0,4.5, 4.0,11.0,8.5,6.5, 6.0,12.5,10.0,7.5, 7.0,12.0,9.5,7.0, 6.5,13.0,10.5,7.0, 7.0,15.0,12.0,8.5, 8.0,16.5,14.5,11.0];
var tempM8 = [null, 7.5,10.3,8.7,8.1, 7.4,7.1,6.4,3.7, 2.7,8.4,6.4,3.2, 4.1,8.9,5.9,3.6, 3.1,5.6,4.1,1.9, 1.0,6.2,4.6,2.2, 1.2,6.6,4.4,2.0, 1.3,7.2,4.8,2.6, 2.0,8.5,6.0,3.5, 3.5,9.0,6.5,4.5, 3.5,8.5,6.5,4.5, 3.0,9.0,7.0,5.0, 4.0,9.5,7.5,5.0, 4.5,9.5,7.5,5.5, 5.0,10.0,8.5,6.0];

// ---------- Sneeuwval/6 uur ----------
var snowCtrl = [null, 0,0,0,0, 0,0,0,0, 0,0,0,0, 0,0,0,0, 0,0,0,0.1, 0,0,0,0, 0,0,0,0, 0,0,0.1,0, 0,0,0,0, 0,0,0,0, 0,0,0.1,0, 0,0,0,0, 0,0,0,0, 0,0,0,0, 0,0,0,0];
var snowOper = [null, 0,0,0,0, 0,0,0,0, 0,0,0,0, 0,0,0,0, 0,0,0,0, 0,0,0,0, 0,0,0,0, 0,0,0,0, 0,0,0,0, 0,0,0,0];
var snowMean = [null, 0,0,0,0, 0,0,0,0, 0,0,0,0, 0,0,0,0.03, 0.08,0.12,0.1,0.18, 0.2,0.15,0.08,0.05, 0.08,0.07,0.04,0.02, 0.02,0.06,0.04,0.03, 0.02,0.03,0.02,0.02, 0.04,0.02,0.01,0.01, 0.06,0.02,0.05,0.02, 0.01,0,0.01,0.05, 0.04,0.01,0,0, 0,0,0,0, 0,0,0,0];
var snowM1 = [null, 0,0,0,0, 0,0,0,0, 0,0,0,0, 0,0,0,0, 0.5,3.8,1.0,0.2, 0,0,0,0, 0,0,0,0, 0,0,0,0, 0,0,0,0, 0,0,0,0, 0,0,0,0, 0,0,0,0, 0,0,0,0, 0,0,0,0, 0,0,0,0];
var snowM2 = [null, 0,0,0,0, 0,0,0,0, 0,0,0,0, 0,0,0,0, 0,0,0.2,4.4, 5.6,2.5,0.3,0, 0,0,0,0, 0,0,0,0, 0,0,0,0, 0,0,0,0, 0,0,0,0, 0,0,0,0, 0,0,0,0, 0,0,0,0, 0,0,0,0];
var snowM3 = [null, 0,0,0,0, 0,0,0,0, 0,0,0,0, 0,0,0,0, 0,1.8,1.9,0.6, 2.1,1.2,0.3,0, 0,0,0,0, 0,0,0,0, 0,0,0,0, 0,0,0,0, 0,0,0,0, 0,0,0,0, 0,0,0,0, 0,0,0,0, 0,0,0,0];
var snowM4 = [null, 0,0,0,0, 0,0,0,0, 0,0,0,0, 0,0,0,0.4, 1.2,0.7,1.6,1.6, 0.8,1.6,0.8,0.2, 0,0,0,0, 0,0,0,0, 0,0,0,0, 0,0,0,0, 0,0,0,0, 0,0,0,0, 0,0,0,0, 0,0,0,0, 0,0,0,0];
var snowM5 = [null, 0,0,0,0, 0,0,0,0, 0,0,0,0, 0,0,0,0, 0,0,0,0, 0,0,0.6,1.2, 1.5,0.8,0.2,0, 0.5,3.5,0.3,0, 0,0,0,0, 0,0,0,0, 0,0,0,0, 0,0,0,0, 0,0,0,0, 0,0,0,0, 0,0,0,0];
var snowM6 = [null, 0,0,0,0, 0,0,0,0, 0,0,0,0, 0,0,0,0, 0,0,0,0, 0,0,0,0.5, 2.3,2.0,0.9,0.5, 0.1,0,0.4,1.0, 0.4,0.9,0.5,0.1, 0,0,0,0, 0.3,0,0,0, 0,0,0,0, 0,0,0,0, 0,0,0,0, 0,0,0,0];
var snowM7 = [null, 0,0,0,0, 0,0,0,0, 0,0,0,0, 0,0,0,0, 0,0,0,0, 0,0,0,0, 0,0,0,0, 0,0,0,0, 0.3,0.6,0.4,0.6, 1.4,0.6,0.2,0, 0.4,0.1,0.6,0.3, 0,0,0,0, 0,0,0,0, 0,0,0,0, 0,0,0,0];
var snowM8 = [null, 0,0,0,0, 0,0,0,0, 0,0,0,0, 0,0,0,0, 0,0,0,0, 0,0,0,0, 0,0,0,0, 0,0,0,0, 0,0,0,0, 0,0,0,0, 0.6,0.1,0.3,0.1, 0,0,0.2,2.6, 2.0,0.1,0,0, 0.1,0,0,0, 0,0,0,0];

// ---------- paneelindeling ----------
var panels = [
  { left: 32,  top: 18,  height: 138, min: 0,  max: 20, step: 5,  unit: 'mm', label: 'Neerslag/6 uur',
    ctrl: precCtrl, oper: precOper, mean: precMean, lo: null, hi: precHi,
    members: [precM1, precM2, precM3, precM4, precM5, precM6, precM7, precM8],
    refs: [{ y: 15, kind: 'dot' }] },
  { left: 420, top: 18,  height: 138, min: 0,  max: 70, step: 10, unit: 'mm', label: 'Accum Neerslag',
    ctrl: accCtrl, oper: accOper, mean: accMean, lo: accLo, hi: accHi,
    members: [accM1, accM2, accM3, accM4, accM5, accM6, accM7, accM8],
    refs: [] },
  { left: 32,  top: 202, height: 139, min: 0,  max: 20, step: 5,  unit: 'm/s', label: '10m wind',
    ctrl: windCtrl, oper: windOper, mean: windMean, lo: windLo, hi: windHi,
    members: [windM1, windM2, windM3, windM4, windM5, windM6, windM7, windM8],
    refs: [{ y: 10.8, kind: 'dot' }, { y: 13.9, kind: 'dot' }, { y: 17.2, kind: 'dot' }] },
  { left: 420, top: 202, height: 139, min: 0,  max: 35, step: 5,  unit: 'm/s', label: 'Windstoten',
    ctrl: gustCtrl, oper: gustOper, mean: gustMean, lo: gustLo, hi: gustHi,
    members: [gustM1, gustM2, gustM3, gustM4, gustM5, gustM6, gustM7, gustM8],
    refs: [{ y: 20, kind: 'dot' }, { y: 25, kind: 'dot' }, { y: 28.6, kind: 'magenta' }] },
  { left: 32,  top: 386, height: 140, min: -5, max: 30, step: 5,  unit: 'Celsius', label: 'T2m',
    ctrl: tempCtrl, oper: tempOper, mean: tempMean, lo: tempLo, hi: tempHi,
    members: [tempM1, tempM2, tempM3, tempM4, tempM5, tempM6, tempM7, tempM8],
    refs: [{ y: 25, kind: 'dot' }, { y: 0, kind: 'zero' }] },
  { left: 420, top: 386, height: 140, min: 0,  max: 7,  step: 1,  unit: 'cm', label: 'Sneeuwva l/6 uur',
    ctrl: snowCtrl, oper: snowOper, mean: snowMean, lo: null, hi: null,
    members: [snowM1, snowM2, snowM3, snowM4, snowM5, snowM6, snowM7, snowM8],
    refs: [{ y: 5, kind: 'magenta' }] }
];

var GREEN = '#7cb446';
var FONT = 'Liberation Sans';

function diff(hi, lo) {
  return hi.map(function (v, i) { return v === null ? null : +(v - lo[i]).toFixed(2); });
}

var grids = [], xAxes = [], yAxes = [], series = [], legends = [], graphics = [];

panels.forEach(function (p, k) {
  grids.push({ left: p.left, top: p.top, width: 326, height: p.height });

  xAxes.push({
    gridIndex: k, type: 'category', data: CATS, boundaryGap: false,
    axisLine: { lineStyle: { color: '#000', width: 1 } },
    axisTick: { interval: function (i) { return i % 4 === 0; }, length: 2, lineStyle: { color: '#000' } },
    axisLabel: {
      interval: function (i) { return i % 2 === 0; },
      margin: 1, color: '#000',
      formatter: function (v, i) { return i % 4 === 0 ? '{z|00}' : '{d|' + DAYS[(i - 2) / 4] + '}'; },
      rich: { z: { fontSize: 5, fontFamily: FONT }, d: { fontSize: 9, fontFamily: FONT, padding: [3, 0, 0, 0] } }
    },
    splitLine: { show: false },
    name: 'Dag', nameLocation: 'middle', nameGap: 10, nameMoveOverlap: false,
    nameTextStyle: { fontSize: 14, fontWeight: 'bold', color: '#000', fontFamily: FONT }
  });

  var yBase = { gridIndex: k, type: 'value', min: p.min, max: p.max, interval: p.step, splitLine: { show: false } };
  yAxes.push(Object.assign({}, yBase, {
    position: 'left',
    axisLine: { show: true, lineStyle: { color: '#666', width: 1 } },
    axisTick: { show: true, length: 3, lineStyle: { color: '#666' } },
    axisLabel: { fontSize: 10, color: '#000', margin: 4, fontFamily: FONT },
    name: p.unit, nameLocation: 'middle', nameGap: 14, nameMoveOverlap: false,
    nameTextStyle: { fontSize: 12, fontWeight: 'bold', color: '#000', fontFamily: FONT }
  }));
  yAxes.push(Object.assign({}, yBase, {
    position: 'right',
    axisLine: { show: true, lineStyle: { color: '#555', width: 2 } },
    axisTick: { show: true, length: 3, lineStyle: { color: '#555' } },
    axisLabel: { fontSize: 10, color: '#000', margin: 4, fontFamily: FONT }
  }));

  var xi = k, yi = 2 * k;

  // spreiding van de pluim
  if (p.hi) {
    if (p.lo) {
      series.push({ type: 'line', xAxisIndex: xi, yAxisIndex: yi, stack: 'band' + k, data: p.lo,
        symbol: 'none', silent: true, lineStyle: { opacity: 0 }, z: 1 });
      series.push({ type: 'line', xAxisIndex: xi, yAxisIndex: yi, stack: 'band' + k, data: diff(p.hi, p.lo),
        symbol: 'none', silent: true, lineStyle: { opacity: 0 },
        areaStyle: { color: '#7fb650', opacity: 0.8 }, z: 1 });
    } else {
      series.push({ type: 'line', xAxisIndex: xi, yAxisIndex: yi, data: p.hi,
        symbol: 'none', silent: true, lineStyle: { opacity: 0 },
        areaStyle: { color: '#7fb650', opacity: 0.8, origin: 'start' }, z: 1 });
    }
  }

  p.members.forEach(function (m) {
    series.push({ type: 'line', xAxisIndex: xi, yAxisIndex: yi, data: m, symbol: 'none', silent: true,
      lineStyle: { color: GREEN, width: 1 }, z: 2 });
  });

  var marks = p.refs.map(function (r) {
    var ls;
    if (r.kind === 'dot') ls = { color: '#000', width: 1, type: [1, 2] };
    else if (r.kind === 'magenta') ls = { color: '#ff00ff', width: 1.5, type: [6, 3] };
    else ls = { color: '#000', width: 3, type: 'solid' };
    return { yAxis: r.y, lineStyle: ls };
  });

  series.push({ name: 'Control', type: 'line', xAxisIndex: xi, yAxisIndex: yi, data: p.ctrl, symbol: 'none',
    lineStyle: { color: '#2222ff', width: 1.5, type: [5, 3] }, itemStyle: { color: '#2222ff' }, z: 3 });
  series.push({ name: 'Oper', type: 'line', xAxisIndex: xi, yAxisIndex: yi, data: p.oper, symbol: 'none',
    lineStyle: { color: '#ff1a1a', width: 1.5 }, itemStyle: { color: '#ff1a1a' }, z: 4 });
  series.push({ name: 'Ens mn', type: 'line', xAxisIndex: xi, yAxisIndex: yi, data: p.mean, symbol: 'none',
    lineStyle: { color: '#7a1010', width: 3, type: [3, 3] }, itemStyle: { color: '#7a1010' }, z: 5,
    markLine: { silent: true, symbol: 'none', label: { show: false }, data: marks } });

  legends.push({
    left: p.left + 2, top: p.top + 3, orient: 'vertical', itemWidth: 22, itemHeight: 6, itemGap: 0,
    selectedMode: false, data: ['Control', 'Oper', 'Ens mn'],
    itemStyle: { opacity: 0, borderWidth: 0 },
    textStyle: { fontSize: 8, lineHeight: 6.5, color: '#000', fontFamily: FONT, width: 36, align: 'center' }
  });

  var cx = p.left + 163;
  graphics.push({
    type: 'text', x: cx, y: p.top - 10,
    style: {
      text: '{n|Vrijdag   30 }{b|Maart}{n|     2012  (starttijd  Vr 00 }{b|UTC}{n|)}',
      align: 'center', verticalAlign: 'middle',
      rich: {
        n: { fontSize: 11, fontFamily: FONT, fill: '#000' },
        b: { fontSize: 11, fontFamily: FONT, fontWeight: 'bold', fill: '#000' }
      }
    }
  });
  graphics.push({
    type: 'text', x: p.left + 288, y: p.top + 1,
    style: { text: 'De Bilt\n' + p.label, align: 'center', verticalAlign: 'top', lineHeight: 11,
      fontSize: 10, fontFamily: FONT, fill: '#000' }
  });
  graphics.push({
    type: 'text', x: p.left + 310, y: p.top + 156 + (k >= 2 && k <= 3 ? 1 : 0),
    style: { text: 'Bron: ECMWF/KNMI', align: 'center', verticalAlign: 'middle',
      fontSize: 6.5, fontWeight: 'bold', fontFamily: FONT, fill: '#1a1aff' }
  });
});

// kaders
graphics.push({ type: 'rect', shape: { x: 0, y: 0, width: 3, height: 554 }, style: { fill: '#c4c4ff' } });
graphics.push({ type: 'rect', shape: { x: 0, y: 551, width: 778, height: 3 }, style: { fill: '#c4c4ff' } });
graphics.push({ type: 'line', shape: { x1: 0, y1: 184, x2: 778, y2: 184 }, style: { stroke: '#2626ee', lineWidth: 1.5 } });
graphics.push({ type: 'line', shape: { x1: 0, y1: 368, x2: 778, y2: 368 }, style: { stroke: '#2626ee', lineWidth: 1.5 } });
graphics.push({ type: 'line', shape: { x1: 389, y1: 0, x2: 389, y2: 554 }, style: { stroke: '#2626ee', lineWidth: 1.5 } });

var myChart = echarts.init(document.getElementById('chart'));
var option = {
  animation: false,
  backgroundColor: '#fff',
  textStyle: { fontFamily: FONT },
  grid: grids,
  xAxis: xAxes,
  yAxis: yAxes,
  legend: legends,
  graphic: graphics,
  series: series
};
myChart.setOption(option);
window.addEventListener('resize', function () { myChart.resize(); });
</script>
</body>
</html>
